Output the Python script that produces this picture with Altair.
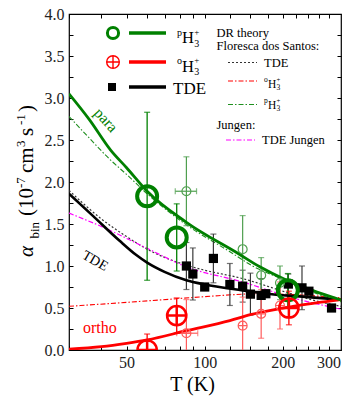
import altair as alt
import pandas as pd

FONT = "Liberation Serif, Times New Roman, serif"
L0, T0 = 69, 14          # plot origin inside the 344x396 window
W, H = 272, 336

GREEN = "#008000"
GREEN_L = "#4f9f4f"
RED = "#ff0000"
RED_L = "#ff5c5c"
MAG = "#ff00ff"

# ---------------- data ----------------
# theory curves: T (K), alpha_bin (1e-7 cm^3 s^-1)
para_T = [30, 36, 43.4, 50, 60, 85, 136, 163, 207, 260, 335]
para_v = [3.05, 2.74, 2.38, 2.17, 1.89, 1.52, 1.14, 0.99, 0.83, 0.71, 0.595]

ortho_T = [30, 40, 50, 60, 85, 125, 150, 219, 335]
ortho_v = [0.01, 0.04, 0.08, 0.12, 0.23, 0.35, 0.42, 0.52, 0.60]

tde_T = [30, 37, 47, 54.5, 60, 70, 85, 100, 140, 173, 250, 335]
tde_v = [1.86, 1.60, 1.30, 1.13, 1.04, 0.93, 0.83, 0.78, 0.71, 0.67, 0.63, 0.60]

fs_tde_T = [30, 40, 50, 60, 85, 100, 140, 200, 250, 335]
fs_tde_v = [1.90, 1.56, 1.35, 1.20, 1.01, 0.95, 0.85, 0.70, 0.61, 0.52]

fs_ortho_T = [30, 67, 100, 163, 250, 335]
fs_ortho_v = [0.52, 0.595, 0.635, 0.67, 0.65, 0.62]

fs_para_T = [30, 36, 43.4, 50, 60, 85, 125, 153, 200, 260, 335]
fs_para_v = [2.78, 2.52, 2.26, 2.09, 1.86, 1.49, 1.17, 1.00, 0.84, 0.69, 0.575]

jungen_T = [30, 40, 60, 85, 140, 219, 335]
jungen_v = [1.63, 1.47, 1.21, 0.99, 0.81, 0.62, 0.485]

# experiment: para (large circles)
pbig_T = [60, 78, 209]
pbig_v = [1.83, 1.34, 0.71]
pbig_e = [1.00, 0.40, 0.20]
# para (small circles)
psm_T = [85, 140, 165, 195]
psm_v = [1.89, 1.20, 0.89, 0.80]
psm_e = [0.41, 0.40, 0.21, 0.20]
psm_xlo = [77, None, None, None]
psm_xhi = [93, None, None, None]
# ortho (large crossed circles)
obig_T = [60, 78, 211]
obig_v = [0.00, 0.41, 0.50]
obig_e = [0.19, 0.21, 0.20]
# ortho (small crossed circles)
osm_T = [85, 140, 165, 195]
osm_v = [0.20, 0.29, 0.43, 0.53]
osm_e = [0.40, 0.34, 0.29, 0.28]
osm_xlo = [78, None, None, None]
osm_xhi = [94, None, None, None]
# TDE (squares)
tde_pT = [85, 90, 100, 108, 125, 140, 150, 165, 172, 210, 237, 252, 308]
tde_pv = [1.00, 0.905, 0.75, 1.09, 0.78, 0.76, 0.665, 0.65, 0.67, 0.785, 0.74, 0.70, 0.50]
tde_pe = [0.28, 0.31, 0.0, 0.29, 0.25, 0.19, 0.25, 0.20, 0.0, 0.12, 0.26, 0.0, 0.0]

x_ticks = [30, 40, 50, 60, 70, 80, 90, 100, 125, 150, 175, 200, 225, 250, 275, 300]
x_labels = [50, 100, 200, 300]
y_ticks = [i * 0.25 for i in range(17)]

# ---------------- helpers ----------------
xscale = alt.Scale(type="log", domain=[30, 335], nice=False)
yscale = alt.Scale(domain=[0, 4], nice=False, zero=False)
one = pd.DataFrame({"d": [0]})


def X(field="T", axis=None):
    return alt.X(f"{field}:Q", scale=xscale, axis=axis)


def Y(field="v", axis=None):
    return alt.Y(f"{field}:Q", scale=yscale, axis=axis)


def line(Ts, vs, color, width, dash=None):
    kw = dict(color=color, strokeWidth=width, interpolate="monotone", clip=True)
    if dash:
        kw["strokeDash"] = dash
    df = pd.DataFrame({"T": Ts, "v": vs})
    return alt.Chart(df).mark_line(**kw).encode(x=X(), y=Y())


def ybars(Ts, vs, es, color, width=1.2, cap=6):
    df = pd.DataFrame({"T": Ts, "v": vs, "e": es})
    df = df[df.e > 0].copy()
    df["lo"] = df.v - df.e
    df["hi"] = df.v + df.e
    rule = alt.Chart(df).mark_rule(color=color, strokeWidth=width, clip=True).encode(
        x=X(), y=Y("lo"), y2="hi:Q")
    caps = alt.Chart(df).transform_fold(["lo", "hi"]).mark_tick(
        orient="horizontal", color=color, size=cap, thickness=width, clip=True
    ).encode(x=X(), y=Y("value"))
    return [rule, caps]


def xbars(Ts, vs, los, his, color, width=1.2, cap=6):
    rows = [(t, v, a, b) for t, v, a, b in zip(Ts, vs, los, his) if a is not None]
    df = pd.DataFrame(rows, columns=["T", "v", "lo", "hi"])
    rule = alt.Chart(df).mark_rule(color=color, strokeWidth=width).encode(
        x=X("lo"), x2="hi:Q", y=Y())
    caps = alt.Chart(df).transform_fold(["lo", "hi"]).mark_tick(
        orient="vertical", color=color, size=cap, thickness=width
    ).encode(x=X("value"), y=Y())
    return [rule, caps]


def points(Ts, vs, **kw):
    df = pd.DataFrame({"T": Ts, "v": vs})
    return alt.Chart(df).mark_point(**kw).encode(x=X(), y=Y())


def txt(s, x, y, size, color="black", align="left", baseline="alphabetic",
        angle=0, style="normal"):
    return alt.Chart(one).mark_text(
        text=s, font=FONT, fontSize=size, color=color, align=align,
        baseline=baseline, angle=angle, fontStyle=style
    ).encode(x=alt.value(x - L0), y=alt.value(y - T0))


def hseg(x1, x2, y, color, width, dash=None):
    kw = dict(color=color, strokeWidth=width)
    if dash:
        kw["strokeDash"] = dash
    return alt.Chart(one).mark_rule(**kw).encode(
        x=alt.value(x1 - L0), x2=alt.value(x2 - L0), y=alt.value(y - T0))


def glyph(x, y, **kw):
    return alt.Chart(one).mark_point(**kw).encode(
        x=alt.value(x - L0), y=alt.value(y - T0))


def h3(prefix, x, yb, big, small, color="black"):
    out = []
    out.append(txt(prefix, x, yb - 0.45 * big, small, color))
    px = x + 0.45 * small + 0.5
    out.append(txt("H", px, yb, big, color))
    sx = px + 0.72 * big + 0.3
    out.append(txt("+", sx, yb - 0.5 * big, small * 0.9, color))
    out.append(txt("3", sx, yb + 0.22 * big, small, color))
    return out


CROSS_CIRCLE = "M-1,0A1,1,0,1,1,1,0A1,1,0,1,1,-1,0ZM-1,0L1,0M0,-1L0,1"
DASHDOT = [5, 2, 1.5, 2]

# ---------------- axes layers ----------------
lab_expr_x = "indexof([50,100,200,300], datum.value) >= 0 ? datum.value : ''"
lab_expr_y = "(datum.value * 2) % 1 == 0 ? format(datum.value, '.1f') : ''"
axis_common = dict(offset=-4, tickSize=4, domain=False, grid=False, tickColor="black",
                   labelFont=FONT, labelFontSize=16, labelColor="#222",
                   labelOverlap=False, labelFlush=False, title=None)
ax_bottom = alt.Axis(orient="bottom", values=x_ticks, labelExpr=lab_expr_x,
                     labelPadding=4, **axis_common)
ax_left = alt.Axis(orient="left", values=y_ticks, labelExpr=lab_expr_y,
                   labelPadding=5, **axis_common)
ax_top = alt.Axis(orient="top", values=x_ticks, labels=False, **axis_common)
ax_right = alt.Axis(orient="right", values=y_ticks, labels=False, **axis_common)

base_df = pd.DataFrame({"T": pbig_T, "v": pbig_v})
axes1 = alt.Chart(base_df).mark_point(opacity=0).encode(
    x=X(axis=ax_bottom), y=Y(axis=ax_left))
axes2 = alt.Chart(base_df).mark_point(opacity=0).encode(
    x=X(axis=ax_top), y=Y(axis=ax_right))

layers = [axes1, axes2]

# theory curves (thin first)
layers += [
    line(fs_tde_T, fs_tde_v, "#333333", 1.2, [2, 2]),
    line(jungen_T, jungen_v, MAG, 1.2, DASHDOT),
    line(fs_ortho_T, fs_ortho_v, RED, 1.1, DASHDOT),
    line(fs_para_T, fs_para_v, "#1f8f1f", 1.1, DASHDOT),
]

# error bars
layers += ybars(tde_pT, tde_pv, tde_pe, "#3a3a3a", 1.2, 6)
layers += ybars(psm_T, psm_v, psm_e, GREEN_L, 1.2, 6)
layers += ybars(osm_T, osm_v, osm_e, RED_L, 1.2, 6)
layers += xbars(psm_T, psm_v, psm_xlo, psm_xhi, GREEN_L, 1.2, 6)
layers += xbars(osm_T, osm_v, osm_xlo, osm_xhi, RED_L, 1.2, 6)
layers += ybars(pbig_T, pbig_v, pbig_e, GREEN, 1.3, 6)
layers += ybars(obig_T, obig_v, obig_e, RED, 1.3, 6)

# thick theory curves
layers += [
    line(tde_T, tde_v, "black", 2.6),
    line(ortho_T, ortho_v, RED, 2.8),
    line(para_T, para_v, GREEN, 2.8),
]

# points
layers += [
    points(tde_pT, tde_pv, shape="square", filled=True, color="black", size=85, opacity=1),
    points(psm_T, psm_v, shape="circle", filled=False, color=GREEN_L, size=80,
           strokeWidth=1.2, opacity=1),
    points(osm_T, osm_v, shape=CROSS_CIRCLE, filled=False, color=RED_L, size=80,
           strokeWidth=1.2, opacity=1),
    points(pbig_T, pbig_v, shape="circle", filled=False, color=GREEN, size=400,
           strokeWidth=4, opacity=1, clip=True),
    points(obig_T, obig_v, shape=CROSS_CIRCLE, filled=False, color=RED, size=370,
           strokeWidth=2.5, opacity=1, clip=True),
]

# in-plot labels
layers += [
    txt("para", 106, 120, 15.5, GREEN, align="center", baseline="middle", angle=48),
    txt("TDE", 95, 261, 14, "black", align="center", baseline="middle", angle=30),
    txt("ortho", 83, 333, 16, RED),
]

# left legend
layers += [
    glyph(113, 33, shape="circle", filled=False, color=GREEN, size=125, strokeWidth=3, opacity=1),
    hseg(129, 166, 33, GREEN, 3.5),
    glyph(113, 62, shape=CROSS_CIRCLE, filled=False, color=RED, size=160, strokeWidth=1.4, opacity=1),
    hseg(129, 166, 62, RED, 3.5),
    glyph(112, 87, shape="square", filled=True, color="black", size=64, opacity=1),
    hseg(129, 166, 87, "black", 3.5),
    txt("TDE", 173, 93.5, 17),
]
layers += h3("p", 177, 43, 16.5, 10)
layers += h3("o", 177, 71.5, 16.5, 10)

# right legend
layers += [
    txt("DR theory", 216.5, 36.5, 12.5),
    txt("Floresca dos Santos:", 216.5, 50, 12.5),
    hseg(228, 257, 62.5, "#333333", 1.2, [2, 2]),
    txt("TDE", 264, 66.5, 12.5),
    hseg(228, 257, 81, RED, 1.1, DASHDOT),
    hseg(228, 257, 104.5, "#1f8f1f", 1.1, DASHDOT),
    txt("Jungen:", 216.5, 128.5, 12.5),
    hseg(226, 255, 140, MAG, 1.2, DASHDOT),
    txt("TDE Jungen", 262, 144, 12.5),
]
layers += h3("o", 264, 87.5, 11.5, 7.5)
layers += h3("p", 264, 108.5, 11.5, 7.5)

# axis titles
layers += [txt("T (K)", 192.5, 390.5, 20, align="center")]
ytitle = [
    ("\u03b1", 257, 33, 21, "italic"),
    ("bin", 238.5, 38.5, 13, "normal"),
    ("(10", 216, 33, 21, "normal"),
    ("-7", 188, 24.5, 13, "normal"),
    ("cm", 173, 33, 21, "normal"),
    ("3", 147, 24.5, 13, "normal"),
    ("s", 136, 33, 21, "normal"),
    ("-1", 125, 24.5, 13, "normal"),
    (")", 112, 33, 21, "normal"),
]
for s, yy, xx, sz, st in ytitle:
    layers.append(txt(s, xx, yy, sz, angle=270, style=st))

chart = alt.layer(*layers).resolve_axis(x="independent", y="independent").properties(
    width=W, height=H,
    autosize=alt.AutoSizeParams(type="none"),
    padding={"left": L0, "top": T0, "right": 344 - L0 - W, "bottom": 396 - T0 - H},
).configure_view(stroke="black", strokeWidth=1.2)

chart.save("out.html", embed_options={"renderer": "svg", "actions": False})
